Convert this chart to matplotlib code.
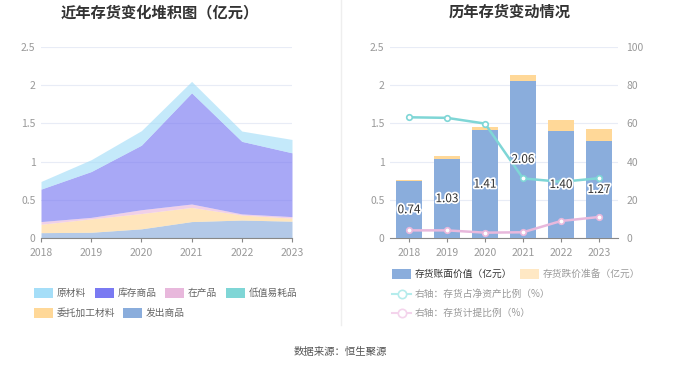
import matplotlib
matplotlib.use("Agg")
import matplotlib.pyplot as plt
import matplotlib.patheffects as pe
from matplotlib.patches import Rectangle
from matplotlib.lines import Line2D
import numpy as np

plt.rcParams['font.family'] = ['Noto Sans CJK SC', 'DejaVu Sans']

years = ['2018', '2019', '2020', '2021', '2022', '2023']
# left chart stack (亿元), bottom to top
fachu = [0.07, 0.075, 0.12, 0.215, 0.235, 0.22]        # 发出商品
weituo = [0.11, 0.175, 0.20, 0.185, 0.065, 0.04]       # 委托加工材料
dizhi = [0.0, 0.0, 0.0, 0.0, 0.0, 0.0]                 # 低值易耗品
zaichan = [0.035, 0.02, 0.05, 0.045, 0.015, 0.02]      # 在产品
kucun = [0.425, 0.60, 0.845, 1.455, 0.95, 0.835]       # 库存商品
yuancai = [0.10, 0.155, 0.19, 0.15, 0.135, 0.175]      # 原材料

# right chart
book = [0.74, 1.03, 1.41, 2.06, 1.40, 1.27]            # 存货账面价值
reserve = [0.02, 0.045, 0.04, 0.07, 0.14, 0.16]        # 存货跌价准备
ratio_net = [63.2, 62.9, 59.9, 31.2, 29.4, 31.3]       # 存货占净资产比例
ratio_prov = [4.0, 4.0, 2.8, 3.0, 8.9, 11.0]           # 存货计提比例

c_yuan = '#a5def8'
c_kucun = '#7a7af2'
c_zai = '#e8b8dc'
c_dizhi = '#7fd6d6'
c_wei = '#ffd898'
c_fa = '#8aaddc'
grid_c = '#e8ecf6'
tick_c = '#999999'

fig = plt.figure(figsize=(6.8, 3.67), dpi=100)
W, H = 680, 367

def ax_rect(x0, x1, ytop, ybot):
    return [x0 / W, (H - ybot) / H, (x1 - x0) / W, (ybot - ytop) / H]

# ---- left chart
ax1 = fig.add_axes(ax_rect(41, 292, 47, 238))
x = np.arange(len(years))
layers = [(fachu, c_fa), (weituo, c_wei), (dizhi, c_dizhi), (zaichan, c_zai), (kucun, c_kucun), (yuancai, c_yuan)]
base = np.zeros(len(years))
for vals, col in layers:
    top = base + np.array(vals)
    ax1.fill_between(x, base, top, color=col, alpha=0.65, linewidth=0)
    base = top
ax1.set_xlim(0, len(years) - 1)
ax1.set_ylim(0, 2.5)
ax1.set_xticks(x)
ax1.set_xticklabels(years)
ax1.set_yticks([0, 0.5, 1, 1.5, 2, 2.5])
ax1.set_yticklabels(['0', '0.5', '1', '1.5', '2', '2.5'])
for ax in [ax1]:
    ax.grid(axis='y', color=grid_c, linewidth=0.8)
    ax.set_axisbelow(True)
    for s in ['top', 'right', 'left']:
        ax.spines[s].set_visible(False)
    ax.spines['bottom'].set_color('#888888')
    ax.tick_params(axis='both', colors=tick_c, labelsize=7.5, length=0, pad=4)
    ax.tick_params(axis='x', length=3, color='#888888')
ax1.set_zorder(2)
for a in [ax1]:
    for c in a.collections:
        c.set_zorder(2)

fig.text(160 / W, 1 - 12 / H, '近年存货变化堆积图（亿元）', ha='center', va='center',
         fontsize=11, fontweight='bold', color='#333333')

# left legend
leg1 = [('原材料', c_yuan, 34, 293), ('库存商品', c_kucun, 95, 293), ('在产品', c_zai, 165, 293),
        ('低值易耗品', c_dizhi, 226, 293), ('委托加工材料', c_wei, 34, 313), ('发出商品', c_fa, 123, 313)]
for name, col, px, py in leg1:
    fig.patches.append(Rectangle((px / W, (H - py - 5) / H), 19 / W, 10 / H, transform=fig.transFigure,
                                 facecolor=col, edgecolor='none'))
    fig.text((px + 23) / W, 1 - py / H, name, ha='left', va='center', fontsize=7, color='#666666')

# divider
fig.add_artist(Line2D([341 / W, 341 / W], [1 - 0 / H, 1 - 325 / H], transform=fig.transFigure,
                      color='#eeeeee', linewidth=1))

# ---- right chart
ax2 = fig.add_axes(ax_rect(390, 618, 47, 238))
ax2.bar(x, book, width=0.69, color=c_fa, zorder=3)
ax2.bar(x, reserve, width=0.69, bottom=book, color=c_wei, zorder=3)
ax2.set_xlim(-0.5, len(years) - 0.5)
ax2.set_ylim(0, 2.5)
ax2.set_xticks(x)
ax2.set_xticklabels(years)
ax2.set_yticks([0, 0.5, 1, 1.5, 2, 2.5])
ax2.set_yticklabels(['0', '0.5', '1', '1.5', '2', '2.5'])
ax2.grid(axis='y', color=grid_c, linewidth=0.8)
ax2.set_axisbelow(True)
for s in ['top', 'right', 'left']:
    ax2.spines[s].set_visible(False)
ax2.spines['bottom'].set_color('#888888')
ax2.tick_params(axis='both', colors=tick_c, labelsize=7.5, length=0, pad=4)
ax2.tick_params(axis='x', length=3, color='#888888')

ax3 = ax2.twinx()
ax3.plot(x, ratio_net, color=c_dizhi, linewidth=1.8, marker='o', markersize=4,
         markerfacecolor='white', markeredgecolor=c_dizhi, markeredgewidth=1.2, zorder=4)
ax3.plot(x, ratio_prov, color=c_zai, linewidth=1.8, marker='o', markersize=4,
         markerfacecolor='white', markeredgecolor=c_zai, markeredgewidth=1.2, zorder=4)
ax3.set_ylim(0, 100)
ax3.set_yticks([0, 20, 40, 60, 80, 100])
for s in ['top', 'right', 'left', 'bottom']:
    ax3.spines[s].set_visible(False)
ax3.tick_params(axis='y', colors=tick_c, labelsize=7.5, length=0, pad=6)

for i, v in enumerate(book):
    ax3.text(x[i], v / 2 / 2.5 * 100, f'{v:.2f}', ha='center', va='center', fontsize=8.5,
             color='#333333', zorder=6,
             path_effects=[pe.withStroke(linewidth=2.5, foreground='white')])

fig.text(510 / W, 1 - 12 / H, '历年存货变动情况', ha='center', va='center',
         fontsize=11, fontweight='bold', color='#333333')

# right legend
fig.patches.append(Rectangle((392 / W, (H - 274 - 5) / H), 19 / W, 10 / H, transform=fig.transFigure,
                             facecolor=c_fa, edgecolor='none'))
fig.text(415 / W, 1 - 274 / H, '存货账面价值（亿元）', ha='left', va='center', fontsize=7, color='#333333')
fig.patches.append(Rectangle((520 / W, (H - 274 - 5) / H), 19 / W, 10 / H, transform=fig.transFigure,
                             facecolor='#ffe8c4', edgecolor='none'))
fig.text(543 / W, 1 - 274 / H, '存货跌价准备（亿元）', ha='left', va='center', fontsize=7, color='#999999')
for txt, col, py in [('右轴：存货占净资产比例（%）', '#b5ecec', 294), ('右轴：存货计提比例（%）', '#f4d4ec', 313)]:
    fig.add_artist(Line2D([392 / W, 411 / W], [1 - py / H, 1 - py / H], transform=fig.transFigure,
                          color=col, linewidth=1.5))
    fig.add_artist(Line2D([401.5 / W], [1 - py / H], transform=fig.transFigure, marker='o',
                          markersize=6, markerfacecolor='white', markeredgecolor=col, markeredgewidth=1.2))
    fig.text(415 / W, 1 - py / H, txt, ha='left', va='center', fontsize=7, color='#999999')

fig.text(340 / W, 1 - 352 / H, '数据来源：恒生聚源', ha='center', va='center', fontsize=7.5, color='#555555')

fig.savefig('out.png', dpi=100, facecolor='white')
